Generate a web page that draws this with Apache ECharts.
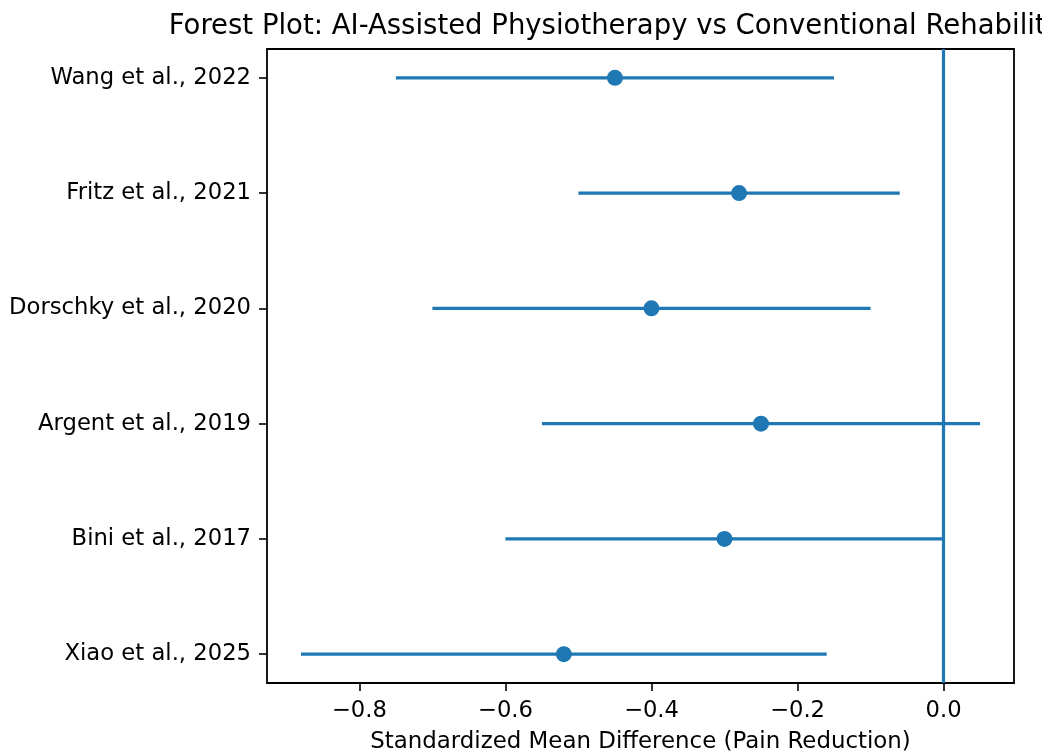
<!DOCTYPE html>
<html>
<head>
<meta charset="utf-8">
<script src="https://cdn.jsdelivr.net/npm/echarts@6/dist/echarts.min.js"></script>
<style>
html,body{margin:0;padding:0;background:#fff;}
#chart{width:1042px;height:752px;}
</style>
</head>
<body>
<div id="chart"></div>
<script>
// Studies listed top to bottom
const studies = ['Wang et al., 2022', 'Fritz et al., 2021', 'Dorschky et al., 2020', 'Argent et al., 2019', 'Bini et al., 2017', 'Xiao et al., 2025'];
const smd = [-0.45, -0.28, -0.40, -0.25, -0.30, -0.52];
const ciLower = [-0.75, -0.50, -0.70, -0.55, -0.60, -0.88];
const ciUpper = [-0.15, -0.06, -0.10, 0.05, 0.00, -0.16];
const xTicks = [-0.8, -0.6, -0.4, -0.2, 0.0];
const yTicks = [0, 1, 2, 3, 4, 5];
const titleText = 'Forest Plot: AI-Assisted Physiotherapy vs Conventional Rehabilitation';
const xName = 'Standardized Mean Difference (Pain Reduction)';

const n = studies.length;
const yPos = studies.map((s, i) => n - 1 - i);
const ciData = studies.map((s, i) => [ciLower[i], ciUpper[i], yPos[i]]);
const ptData = studies.map((s, i) => [smd[i], yPos[i]]);

const FONT = 'DejaVu Sans';
const BLUE = '#1f77b4';

const chart = echarts.init(document.getElementById('chart'), null, {renderer: 'canvas'});
chart.setOption({
  animation: false,
  backgroundColor: '#fff',
  textStyle: {fontFamily: FONT},
  graphic: [{
    type: 'text',
    x: 642, y: 27,
    style: {text: titleText, fontFamily: FONT, fontSize: 27.5, fill: '#000', textAlign: 'center', textVerticalAlign: 'middle'}
  }],
  grid: {left: 267, right: 28, top: 49, bottom: 69, outerBoundsMode: 'none', containLabel: false,
    show: true, borderColor: '#000', borderWidth: 1.8, backgroundColor: 'transparent'},
  xAxis: {
    type: 'value', min: -0.9265, max: 0.0965,
    name: xName, nameLocation: 'middle', nameGap: 48,
    nameTextStyle: {fontFamily: FONT, fontSize: 22.9, color: '#000'},
    axisLine: {show: false, onZero: false},
    splitLine: {show: false},
    axisTick: {show: true, customValues: xTicks, length: 8, lineStyle: {color: '#000', width: 1.6}},
    axisLabel: {customValues: xTicks, margin: 17, fontFamily: FONT, fontSize: 22.7, color: '#000',
      formatter: v => (v < 0 ? '\u2212' : '') + Math.abs(v).toFixed(1)}
  },
  yAxis: {
    type: 'value', min: -0.25, max: 5.25,
    axisLine: {show: false, onZero: false},
    splitLine: {show: false},
    axisTick: {show: true, customValues: yTicks, length: 8, lineStyle: {color: '#000', width: 1.6}},
    axisLabel: {customValues: yTicks, margin: 16, fontFamily: FONT, fontSize: 22.7, color: '#000',
      formatter: v => studies[n - 1 - Math.round(v)]}
  },
  series: [{
    type: 'custom',
    data: ciData,
    encode: {x: [0, 1], y: 2},
    renderItem: function (params, api) {
      const p1 = api.coord([api.value(0), api.value(2)]);
      const p2 = api.coord([api.value(1), api.value(2)]);
      return {type: 'line', shape: {x1: p1[0], y1: p1[1], x2: p2[0], y2: p2[1]}, style: {stroke: BLUE, lineWidth: 3.2}};
    },
    z: 2
  }, {
    type: 'scatter',
    data: ptData,
    symbol: 'circle',
    symbolSize: 16,
    itemStyle: {color: BLUE, opacity: 1},
    z: 3,
    markLine: {
      silent: true, symbol: ['none', 'none'],
      label: {show: false},
      lineStyle: {color: BLUE, width: 3.2, type: 'solid'},
      data: [{xAxis: 0}]
    }
  }]
});
</script>
</body>
</html>
